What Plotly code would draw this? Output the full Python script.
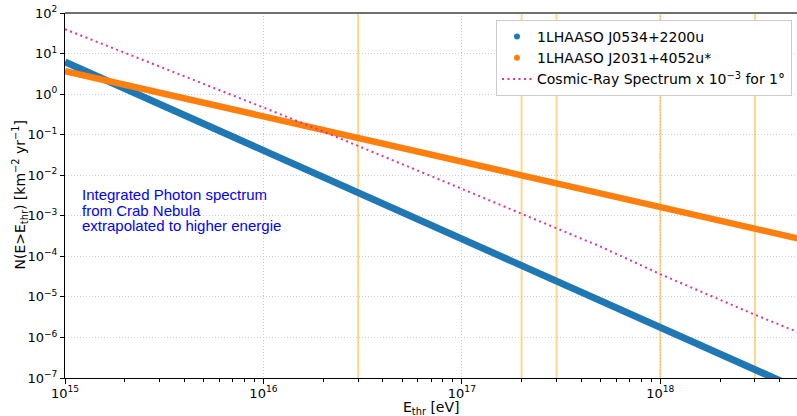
import plotly.graph_objects as go

# ---- data ----
E_CRAB = [1e15, 2e15, 5e15, 1e16, 2e16, 5e16, 1e17, 2e17, 5e17, 1e18, 2e18, 5e18]
N_CRAB = [6.2, 1.37, 0.185, 0.041, 9.1e-3, 1.23e-3, 2.7e-4, 6.0e-5, 8.1e-6, 1.8e-6, 3.9e-7, 5.3e-8]

E_CYG = [1e15, 2e15, 5e15, 1e16, 2e16, 5e16, 1e17, 2e17, 5e17, 1e18, 2e18, 5e18]
N_CYG = [3.7, 1.71, 0.612, 0.282, 0.130, 0.0467, 0.0215, 9.9e-3, 3.56e-3, 1.64e-3, 7.56e-4, 2.72e-4]

E_CR = [1e15, 2e15, 5e15, 1e16, 2e16, 5e16, 1e17, 2e17, 5e17, 1e18, 2e18, 3e18, 5e18]
N_CR = [39.8, 10.5, 1.82, 0.468, 0.120, 0.0191, 4.62e-3, 1.12e-3, 1.74e-4, 3.63e-5, 8.5e-6, 3.63e-6, 1.32e-6]

E_THRESH = [3e16, 2e17, 3e17, 1e18, 3e18]

NAMES = ["1LHAASO J0534+2200u", "1LHAASO J2031+4052u*",
         "Cosmic-Ray Spectrum x 10<sup>\u22123</sup> for 1\u00b0"]

X_TICKS = [1e15, 1e16, 1e17, 1e18]
X_TICKTEXT = ["10<sup>15</sup>", "10<sup>16</sup>", "10<sup>17</sup>", "10<sup>18</sup>"]
Y_TICKS = [1e-7, 1e-6, 1e-5, 1e-4, 1e-3, 1e-2, 1e-1, 1e0, 1e1, 1e2]
Y_TICKTEXT = ["10<sup>\u22127</sup>", "10<sup>\u22126</sup>", "10<sup>\u22125</sup>",
              "10<sup>\u22124</sup>", "10<sup>\u22123</sup>", "10<sup>\u22122</sup>",
              "10<sup>\u22121</sup>", "10<sup>0</sup>", "10<sup>1</sup>", "10<sup>2</sup>"]
NOTE_LINES = ["Integrated Photon spectrum", "from Crab Nebula", "extrapolated to higher energie"]

BLUE = "#1f77b4"
ORANGE = "#ff7f0e"
MAGENTA = "rgb(220,50,160)"

fig = go.Figure()

# vertical threshold lines
vx, vy = [], []
for e in E_THRESH:
    vx += [e, e, None]
    vy += [1e-9, 1e3, None]
fig.add_trace(go.Scatter(x=vx, y=vy, mode="lines", showlegend=False, hoverinfo="skip",
                         line=dict(color="rgba(255,165,0,0.45)", width=2)))

fig.add_trace(go.Scatter(x=E_CRAB, y=N_CRAB, mode="lines", showlegend=False,
                         line=dict(color=BLUE, width=7)))
fig.add_trace(go.Scatter(x=E_CYG, y=N_CYG, mode="lines", showlegend=False,
                         line=dict(color=ORANGE, width=6.5)))
fig.add_trace(go.Scatter(x=E_CR, y=N_CR, mode="lines", name=NAMES[2], legendrank=3,
                         line=dict(color=MAGENTA, width=2, dash="2px,3.5px")))

# legend-only marker entries
fig.add_trace(go.Scatter(x=[None], y=[None], mode="markers", name=NAMES[0], legendrank=1,
                         marker=dict(color=BLUE, size=6)))
fig.add_trace(go.Scatter(x=[None], y=[None], mode="markers", name=NAMES[1], legendrank=2,
                         marker=dict(color=ORANGE, size=6)))

minor_x = [m * 10 ** d for d in range(15, 19) for m in range(2, 10)]

PL, PT, PW, PH = 65, 13, 732, 365

def px2paper_x(px):
    return (px - PL) / PW

def px2paper_y(py):
    return (PT + PH - py) / PH

annotations = []
for i, line in enumerate(NOTE_LINES):
    annotations.append(dict(text=line, xref="paper", yref="paper",
                            x=px2paper_x(79.5), y=px2paper_y(195 + 15.5 * i),
                            xanchor="left", yanchor="middle", showarrow=False,
                            font=dict(family="Liberation Sans", size=15, color="blue")))
annotations.append(dict(text="E<sub>thr</sub> [eV]", xref="paper", yref="paper",
                        x=0.5, y=px2paper_y(407.5), xanchor="center", yanchor="middle",
                        showarrow=False, font=dict(size=14)))
annotations.append(dict(text="N(E&gt;E<sub>thr</sub>) [km<sup>\u22122</sup> yr<sup>\u22121</sup>]",
                        xref="paper", yref="paper", x=px2paper_x(20), y=0.5,
                        xanchor="center", yanchor="middle", textangle=-90,
                        showarrow=False, font=dict(size=14)))

fig.update_layout(
    width=797, height=416,
    margin=dict(l=PL, r=0, t=PT, b=416 - PT - PH, pad=0),
    paper_bgcolor="white", plot_bgcolor="white",
    font=dict(family="DejaVu Sans", size=14, color="black"),
    legend=dict(x=px2paper_x(792), y=px2paper_y(20), xanchor="right", yanchor="top",
                bgcolor="white", bordercolor="#cccccc", borderwidth=1,
                font=dict(size=14)),
    annotations=annotations,
    shapes=[dict(type="line", xref="paper", yref="paper", x0=0, x1=1, y0=1, y1=1,
                 line=dict(color="#707070", width=2))],
    xaxis=dict(type="log", range=[15, 18.689], tickmode="array", tickvals=X_TICKS,
               ticktext=X_TICKTEXT, ticks="outside", ticklen=5, tickcolor="black",
               showline=True, linecolor="black", linewidth=1, showgrid=True,
               gridcolor="#cccccc", griddash="1px,2px", gridwidth=1, zeroline=False,
               tickfont=dict(size=13), ticklabelstandoff=-2,
               minor=dict(tickmode="array", tickvals=minor_x, ticks="outside",
                          ticklen=3, tickcolor="black", showgrid=False)),
    yaxis=dict(type="log", range=[-7, 2], tickmode="array", tickvals=Y_TICKS,
               ticktext=Y_TICKTEXT, ticks="outside", ticklen=4, tickcolor="black",
               showline=True, linecolor="black", linewidth=1, showgrid=True,
               gridcolor="#cccccc", griddash="1px,2px", gridwidth=1, zeroline=False,
               tickfont=dict(size=13)),
)

fig.write_html("out.html", config={"displayModeBar": False},
               post_script="document.body.style.margin='0';"
               "document.body.style.overflow='hidden';")
